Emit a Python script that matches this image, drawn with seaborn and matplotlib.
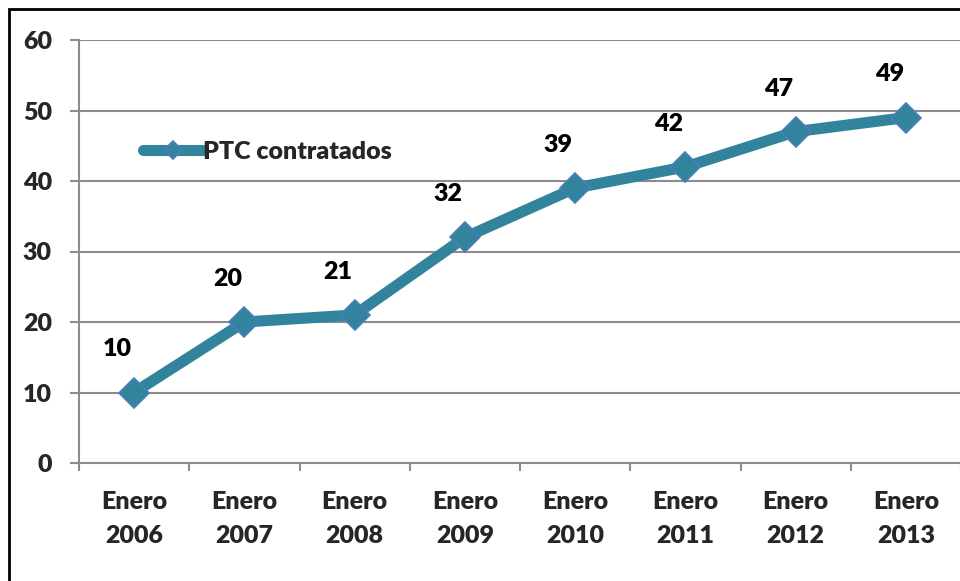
import numpy as np
import matplotlib
matplotlib.use("Agg")
import matplotlib.pyplot as plt
import matplotlib.patches as patches
from matplotlib.ticker import FixedLocator
import pandas as pd
import seaborn as sns

# data
periods = ['Enero\n2006', 'Enero\n2007', 'Enero\n2008', 'Enero\n2009',
           'Enero\n2010', 'Enero\n2011', 'Enero\n2012', 'Enero\n2013']
ptc = [10, 20, 21, 32, 39, 42, 47, 49]
series_name = 'PTC contratados'
y_ticks = [0, 10, 20, 30, 40, 50, 60]

line_col = '#31849B'
edge_col = '#4A7EBB'
grid_col = '#8C8C8C'
wt = 'heavy'

sns.set_theme(style='white')
plt.rcParams['font.family'] = ['Lato', 'DejaVu Sans']
plt.rcParams['font.weight'] = wt

df = pd.DataFrame({'Periodo': periods, series_name: ptc})

fig = plt.figure(figsize=(9.6, 5.81), dpi=100)
ax = fig.add_axes([79 / 960, 1 - 463 / 581, 882 / 960, 423 / 581])

sns.lineplot(data=df, x='Periodo', y=series_name, sort=False, ax=ax,
             color=line_col, linewidth=8, marker='D', markersize=15.5,
             markerfacecolor=line_col, markeredgecolor=edge_col,
             markeredgewidth=1.2, label=series_name, zorder=3)

ax.set_xlim(-0.5, len(periods) - 0.5)
ax.set_ylim(0, 60)
ax.set_yticks(y_ticks)
ax.set_xlabel('')
ax.set_ylabel('')

# gridlines
ax.yaxis.grid(True, color=grid_col, linewidth=1.5)
ax.xaxis.grid(False)
ax.set_axisbelow(True)

for s in ['top', 'right']:
    ax.spines[s].set_visible(False)
for s in ['left', 'bottom']:
    ax.spines[s].set_color(grid_col)
    ax.spines[s].set_linewidth(1.5)

# tick marks between categories, labels at centres
ax.xaxis.set_minor_locator(FixedLocator(np.arange(-0.5, len(periods), 1.0)))
ax.tick_params(axis='x', which='major', length=0, pad=20, labelsize=18)
ax.tick_params(axis='x', which='minor', length=6, width=1.5, color=grid_col,
               direction='out', bottom=True)
ax.tick_params(axis='y', which='major', length=6.5, width=1.5, color=grid_col,
               direction='out', left=True, pad=13, labelsize=18)
for lab in ax.get_xticklabels():
    lab.set_linespacing(1.7)
    lab.set_fontweight(wt)
for lab in ax.get_yticklabels():
    lab.set_fontweight(wt)

# data labels
for i, v in enumerate(ptc):
    ax.annotate(str(v), (i, v), xytext=(-12, 31), textcoords='offset points',
                ha='center', va='center', fontsize=18, fontweight=wt,
                color='black')

leg = ax.legend(loc='center left', bbox_to_anchor=(0.058, 0.735), frameon=False,
                fontsize=18, handlelength=2.4, handletextpad=0.0,
                borderpad=0, markerscale=0.6)
for t in leg.get_texts():
    t.set_fontweight(wt)

# outer chart frame
fig.patches.append(patches.Rectangle((9 / 960, -0.2), 1.2, 1 - 9 / 581 + 0.2,
                                     transform=fig.transFigure, fill=False,
                                     edgecolor='black', linewidth=2,
                                     clip_on=False))

fig.savefig('out.png', dpi=100)
